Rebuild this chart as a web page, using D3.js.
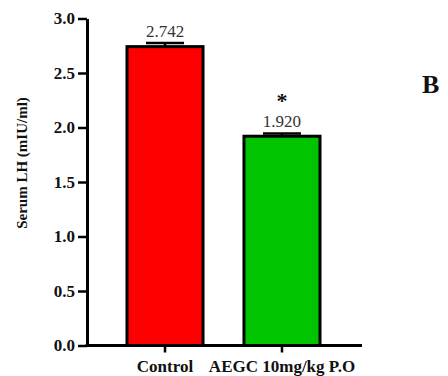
<!DOCTYPE html>
<html>
<head>
<meta charset="utf-8">
<script src="https://d3js.org/d3.v7.min.js"></script>
<style>
  body { margin: 0; background: #fff; }
  svg text { font-family: "Times New Roman", "Liberation Serif", Times, serif !important; }
</style>
</head>
<body>
<div id="chart"></div>
<script>
(function () {

  // data
  var groups = ["Control", "AEGC 10mg/kg P.O"];
  var means = [2.742, 1.920];
  var sems = [0.033, 0.025];
  var valueLabels = ["2.742", "1.920"];
  var marks = ["", "*"];
  var colors = ["#ff0000", "#00c400"];
  var yTicks = [0, 0.5, 1.0, 1.5, 2.0, 2.5, 3.0];

  var w = 448, h = 376;

  var svg = d3.select("#chart")
    .append("svg")
    .attr("width", w)
    .attr("height", h);

  var y = d3.scaleLinear()
    .domain([0, 3])
    .range([345.5, 18.5]);

  var x = d3.scaleBand()
    .domain(groups)
    .range([127, 320])
    .paddingInner(0.35)
    .paddingOuter(0);

  // bars
  svg.selectAll(".bar")
    .data(groups)
    .enter()
    .append("rect")
    .attr("class", "bar")
    .attr("x", function (d) { return x(d); })
    .attr("width", x.bandwidth())
    .attr("y", function (d, i) { return y(means[i]); })
    .attr("height", function (d, i) { return y(0) - y(means[i]); })
    .style("fill", function (d, i) { return colors[i]; })
    .style("stroke", "#000")
    .style("stroke-width", 3);

  // error bars (upper only)
  var cap = 19;
  svg.selectAll(".err")
    .data(groups)
    .enter()
    .append("path")
    .attr("class", "err")
    .attr("d", function (d, i) {
      var cx = x(d) + x.bandwidth() / 2;
      var top = y(means[i] + sems[i]);
      return "M" + cx + "," + y(means[i]) + "V" + top +
             "M" + (cx - cap) + "," + top + "H" + (cx + cap);
    })
    .style("stroke", "#000")
    .style("stroke-width", 2.5)
    .style("fill", "none");

  // value labels
  svg.selectAll(".val")
    .data(groups)
    .enter()
    .append("text")
    .attr("class", "val")
    .attr("x", function (d) { return x(d) + x.bandwidth() / 2; })
    .attr("y", function (d, i) { return y(means[i] + sems[i]) - 6.5; })
    .attr("text-anchor", "middle")
    .style("font-size", "17px")
    .style("fill", "#333")
    .text(function (d, i) { return valueLabels[i]; });

  svg.selectAll(".star")
    .data(groups)
    .enter()
    .append("text")
    .attr("class", "star")
    .attr("x", function (d) { return x(d) + x.bandwidth() / 2; })
    .attr("y", function (d, i) { return y(means[i] + sems[i]) - 25; })
    .attr("text-anchor", "middle")
    .style("font-size", "22px")
    .style("font-weight", "bold")
    .style("fill", "#111")
    .text(function (d, i) { return marks[i]; });

  // y axis
  var yAxis = d3.axisLeft(y)
    .tickValues(yTicks)
    .tickFormat(d3.format(".1f"))
    .tickSize(9)
    .tickSizeOuter(0);

  var gy = svg.append("g")
    .attr("transform", "translate(87,0)")
    .call(yAxis);
  gy.select(".domain").style("stroke-width", 3);
  gy.selectAll(".tick line").style("stroke-width", 2.5);
  gy.selectAll(".tick text")
    .style("font-size", "17px")
    .style("font-weight", "bold")
    .style("fill", "#111")
    .attr("x", -12);

  // x axis
  var xAxis = d3.axisBottom(x)
    .tickSize(7)
    .tickSizeOuter(0);

  var gx = svg.append("g")
    .attr("transform", "translate(0," + y(0) + ")")
    .call(xAxis);
  gx.select(".domain")
    .attr("d", "M85.5,0H362")
    .style("stroke-width", 3);
  gx.selectAll(".tick line").style("stroke-width", 2.5);
  gx.selectAll(".tick text")
    .style("font-size", "17px")
    .style("font-weight", "bold")
    .style("fill", "#111")
    .attr("dy", null)
    .attr("y", 26);

  // y title
  svg.append("text")
    .attr("transform", "translate(27,163) rotate(-90)")
    .attr("text-anchor", "middle")
    .style("font-size", "15px")
    .style("font-weight", "bold")
    .style("fill", "#111")
    .text("Serum LH (mIU/ml)");

  // panel letter
  svg.append("text")
    .attr("x", 422)
    .attr("y", 93)
    .style("font-size", "26px")
    .style("font-weight", "bold")
    .style("fill", "#111")
    .text("B");

})();
</script>
</body>
</html>
